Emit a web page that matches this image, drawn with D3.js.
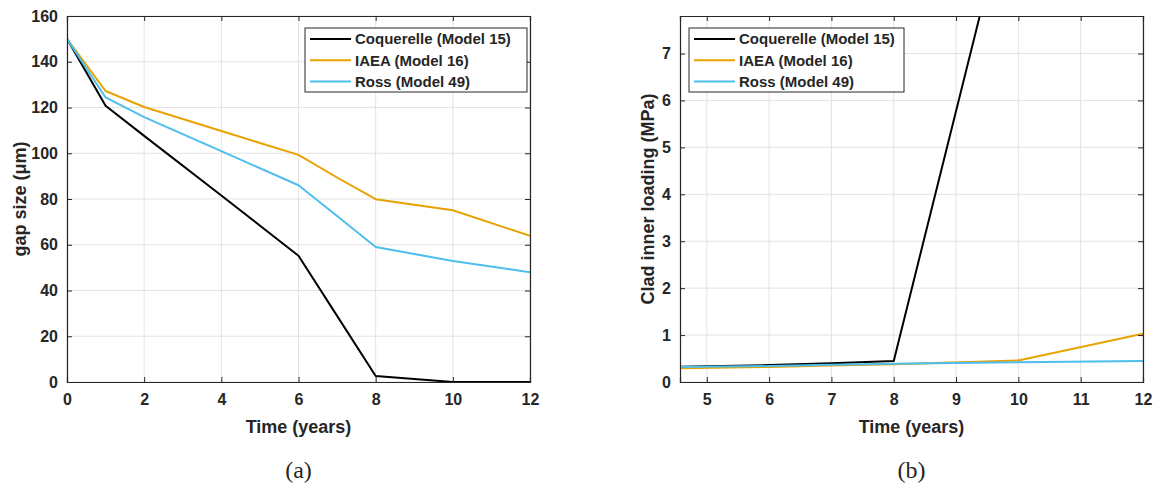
<!DOCTYPE html>
<html>
<head>
<meta charset="utf-8">
<script src="https://cdn.jsdelivr.net/npm/d3@7"></script>
<style>
  html, body { margin: 0; padding: 0; background: #fff; }
  svg { display: block; }
  text { font-family: "Liberation Sans", Arial, sans-serif; fill: #262626; }
</style>
</head>
<body>
<svg id="fig" width="1156" height="489"></svg>
<script>
// ---- Data ----------------------------------------------------------
const seriesNames = ["Coquerelle (Model 15)", "IAEA (Model 16)", "Ross (Model 49)"];
const seriesColors = ["#000000", "#E8A202", "#4DBEEE"];

// (a) gap size vs time
const gapTime = [0, 1, 2, 4, 6, 7, 8, 10, 12];
const gapCoquerelle = [150, 120.8, 107.6, 81.5, 55.2, 28.9, 2.6, 0, 0];
const gapIAEA = [150, 127.2, 120.2, 109.7, 99.3, 89.4, 79.9, 75.1, 63.9];
const gapRoss = [150, 124.4, 115.8, 100.9, 86.0, 72.6, 59.0, 52.9, 48.0];
const gapXTicks = [0, 2, 4, 6, 8, 10, 12];
const gapYTicks = [0, 20, 40, 60, 80, 100, 120, 140, 160];

// (b) clad inner loading vs time
const loadTime = [4, 6, 7, 8, 10, 12];
const loadCoquerelle = [0.31, 0.36, 0.40, 0.45, 11.1, 11.6];
const loadIAEA = [0.28, 0.32, 0.35, 0.38, 0.46, 1.03];
const loadRoss = [0.31, 0.34, 0.37, 0.39, 0.42, 0.45];
const loadXTicks = [5, 6, 7, 8, 9, 10, 11, 12];
const loadYTicks = [0, 1, 2, 3, 4, 5, 6, 7];

// ---- Drawing -------------------------------------------------------
const svg = d3.select("#fig");

function panel(cfg) {
  const g = svg.append("g");
  const x = d3.scaleLinear().domain(cfg.xDomain).range([cfg.left, cfg.right]);
  const y = d3.scaleLinear().domain(cfg.yDomain).range([cfg.bottom, cfg.top]);
  const clipId = "clip-" + cfg.id;

  g.append("clipPath").attr("id", clipId)
    .append("rect")
    .attr("x", cfg.left).attr("y", cfg.top)
    .attr("width", cfg.right - cfg.left).attr("height", cfg.bottom - cfg.top);

  // grid
  const grid = g.append("g").attr("stroke", "#e3e3e3").attr("stroke-width", 1);
  cfg.xTicks.forEach(t => grid.append("line")
    .attr("x1", x(t)).attr("x2", x(t)).attr("y1", cfg.top).attr("y2", cfg.bottom));
  cfg.yTicks.forEach(t => grid.append("line")
    .attr("y1", y(t)).attr("y2", y(t)).attr("x1", cfg.left).attr("x2", cfg.right));

  // series
  const line = d3.line().x(d => x(d[0])).y(d => y(d[1]));
  const lines = g.append("g").attr("clip-path", `url(#${clipId})`);
  cfg.series.forEach((vals, i) => {
    lines.append("path")
      .datum(cfg.xs.map((t, k) => [t, vals[k]]))
      .attr("d", line)
      .attr("fill", "none")
      .attr("stroke", seriesColors[i])
      .attr("stroke-width", 2)
      .attr("stroke-linejoin", "round");
  });

  // axes (ticks pointing inward on all four sides)
  const tickLen = 5;
  const axBottom = d3.axisBottom(x).tickValues(cfg.xTicks).tickSize(-tickLen).tickPadding(12).tickFormat(d3.format("d"));
  const axTop = d3.axisTop(x).tickValues(cfg.xTicks).tickSize(-tickLen).tickFormat("");
  const axLeft = d3.axisLeft(y).tickValues(cfg.yTicks).tickSize(-tickLen).tickPadding(9).tickFormat(d3.format("d"));
  const axRight = d3.axisRight(y).tickValues(cfg.yTicks).tickSize(-tickLen).tickFormat("");

  const styleAxis = sel => {
    sel.select(".domain").attr("stroke", "#262626").attr("stroke-width", 1.2);
    sel.selectAll(".tick line").attr("stroke", "#262626").attr("stroke-width", 1);
    sel.selectAll(".tick text")
      .attr("fill", "#262626")
      .style("font-family", "'Liberation Sans', Arial, sans-serif")
      .style("font-size", "16px").style("font-weight", "bold");
  };
  g.append("g").attr("transform", `translate(0,${cfg.bottom})`).call(axBottom).call(styleAxis);
  g.append("g").attr("transform", `translate(0,${cfg.top})`).call(axTop).call(styleAxis);
  g.append("g").attr("transform", `translate(${cfg.left},0)`).call(axLeft).call(styleAxis);
  g.append("g").attr("transform", `translate(${cfg.right},0)`).call(axRight).call(styleAxis);

  // axis labels
  g.append("text")
    .attr("x", (cfg.left + cfg.right) / 2).attr("y", cfg.bottom + 51)
    .attr("text-anchor", "middle")
    .style("font-size", "18px").style("font-weight", "bold")
    .text("Time (years)");
  g.append("text")
    .attr("transform", `translate(${cfg.yLabelX},${(cfg.top + cfg.bottom) / 2}) rotate(-90)`)
    .attr("text-anchor", "middle")
    .style("font-size", "18px").style("font-weight", "bold")
    .text(cfg.yLabel);

  // caption
  g.append("text")
    .attr("x", (cfg.left + cfg.right) / 2).attr("y", cfg.bottom + 96)
    .attr("text-anchor", "middle")
    .style("font-family", "'Liberation Serif', 'Times New Roman', serif")
    .style("font-size", "24px")
    .attr("fill", "#000")
    .text(cfg.caption);

  // legend
  const lg = g.append("g").attr("transform", `translate(${cfg.legendX},${cfg.legendY})`);
  lg.append("rect")
    .attr("x", 0).attr("y", 0).attr("width", cfg.legendW).attr("height", 64)
    .attr("fill", "#fff").attr("stroke", "#262626").attr("stroke-width", 1);
  seriesNames.forEach((name, i) => {
    const cy = 11 + i * 21.3;
    lg.append("line")
      .attr("x1", 5).attr("x2", 46).attr("y1", cy).attr("y2", cy)
      .attr("stroke", seriesColors[i]).attr("stroke-width", 2);
    lg.append("text")
      .attr("x", 50).attr("y", cy).attr("dy", "0.35em")
      .style("font-size", "15px").style("font-weight", "bold")
      .attr("fill", "#000")
      .text(name);
  });
}

panel({
  id: "a",
  left: 67, right: 530, top: 16, bottom: 382,
  xDomain: [0, 12], yDomain: [0, 160],
  xTicks: gapXTicks, yTicks: gapYTicks,
  xs: gapTime, series: [gapCoquerelle, gapIAEA, gapRoss],
  yLabel: "gap size (μm)", yLabelX: 26,
  caption: "(a)",
  legendX: 305, legendY: 28, legendW: 222
});

panel({
  id: "b",
  left: 680, right: 1143, top: 16, bottom: 382,
  xDomain: [4.57, 12], yDomain: [0, 7.8],
  xTicks: loadXTicks, yTicks: loadYTicks,
  xs: loadTime, series: [loadCoquerelle, loadIAEA, loadRoss],
  yLabel: "Clad inner loading (MPa)", yLabelX: 654,
  caption: "(b)",
  legendX: 689, legendY: 28, legendW: 215
});
</script>
</body>
</html>
